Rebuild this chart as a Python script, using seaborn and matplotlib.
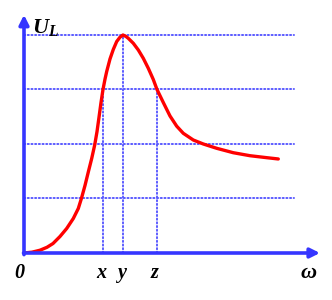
import matplotlib
matplotlib.use("Agg")
import matplotlib.pyplot as plt
import seaborn as sns
import pandas as pd

# ---- data ----
omega = [0.0, 0.8, 1.6, 2.3, 2.9, 3.6, 4.27, 4.93, 5.43, 5.74, 6.1, 6.43, 6.77,
         7.07, 7.3, 7.5, 7.7, 7.9, 8.1, 8.27, 8.6, 8.93, 9.27, 9.6, 9.9, 10.2,
         10.43, 10.93, 11.43, 11.93, 12.43, 12.93, 13.3, 13.93, 14.6, 15.27,
         15.93, 16.93, 17.93, 19.27, 20.93, 22.6, 24.27, 25.43]
UL = [0.0, 0.015, 0.051, 0.105, 0.174, 0.303, 0.45, 0.633, 0.817, 1.0, 1.239,
      1.486, 1.734, 1.982, 2.226, 2.49, 2.76, 3.0, 3.19, 3.33, 3.56, 3.735,
      3.88, 3.96, 4.0, 3.972, 3.939, 3.848, 3.725, 3.572, 3.389, 3.183, 3.0,
      2.761, 2.514, 2.327, 2.196, 2.073, 2.0, 1.921, 1.84, 1.785, 1.749, 1.725]
grid_levels = [1, 2, 3, 4]
mark_pos = [7.9, 9.9, 13.3]
mark_height = [3, 4, 3]
mark_labels = ["x", "y", "z"]
origin_label = "0"
x_label = "ω"
y_label = "$U_L$"

sns.set_style("white")
plt.rcParams["font.family"] = ["Liberation Serif", "DejaVu Serif"]
plt.rcParams["mathtext.fontset"] = "custom"
plt.rcParams["mathtext.it"] = "Liberation Serif:bold:italic"
plt.rcParams["mathtext.rm"] = "Liberation Serif:bold"

blue_axis = "#3535FF"
blue_grid = "#5A5AFF"
red = "#FF0000"

fig = plt.figure(figsize=(3.32, 3.00), dpi=100)
ax = fig.add_axes([24 / 332, 47 / 300, 294 / 332, 236 / 300])
ax.set_xlim(0, 29.4)
ax.set_ylim(0, 4.33)

# dotted grid lines
for lv in grid_levels:
    ax.plot([0, 27.0], [lv, lv], linestyle=(0, (0.6, 1.3)), color=blue_grid, lw=1.4,
            clip_on=False, dash_capstyle="round")
for xp, h in zip(mark_pos, mark_height):
    ax.plot([xp, xp], [0, h], linestyle=(0, (0.6, 1.3)), color=blue_grid, lw=1.4,
            clip_on=False, dash_capstyle="round")

# curve
df = pd.DataFrame({"omega": omega, "UL": UL})
sns.lineplot(data=df, x="omega", y="UL", color=red, lw=2.4, ax=ax, sort=False,
             estimator=None)
ax.lines[-1].set_solid_joinstyle("round")
ax.lines[-1].set_solid_capstyle("round")
ax.axis("off")

# axes arrows
ax.annotate("", xy=(29.6, 0), xytext=(-0.05, 0), annotation_clip=False,
            arrowprops=dict(arrowstyle="-|>", color=blue_axis, lw=2.6,
                            mutation_scale=14, shrinkA=0, shrinkB=0))
ax.annotate("", xy=(0, 4.37), xytext=(0, -0.03), annotation_clip=False,
            arrowprops=dict(arrowstyle="-|>", color=blue_axis, lw=2.6,
                            mutation_scale=14, shrinkA=0, shrinkB=0))

# labels
lab_kw = dict(fontsize=14.5, fontweight="bold", fontstyle="italic", color="black",
              ha="center", va="center", clip_on=False)
ax.text(-0.5, -0.36, origin_label, **lab_kw)
for xp, lb in zip(mark_pos, mark_labels):
    ax.text(xp - 0.2, -0.36, lb, **lab_kw)
ax.text(28.5, -0.36, x_label, **dict(lab_kw, fontsize=16))
ax.text(2.15, 4.14, y_label, fontsize=16, color="black", ha="center", va="center",
        clip_on=False)

fig.savefig("out.png", dpi=100)
